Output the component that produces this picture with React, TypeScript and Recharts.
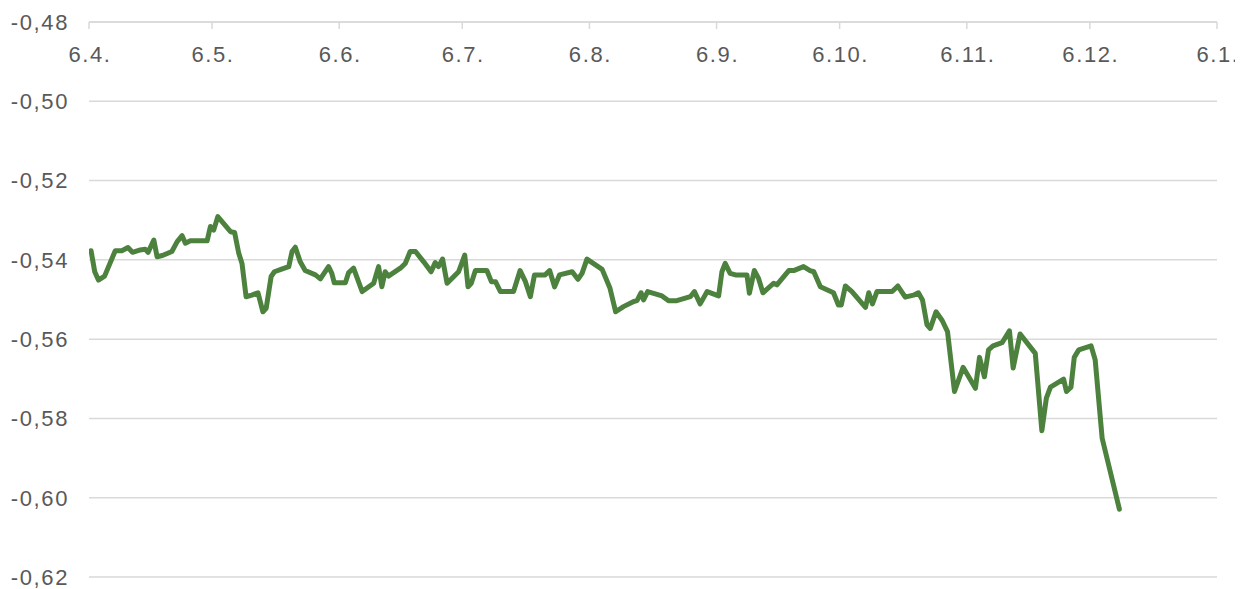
import React from 'react';
import { LineChart, Line, XAxis, YAxis, CartesianGrid } from 'recharts';

// days since 6 April
const DAYS = [0.5, 1.4, 2.3, 3.8, 6.4, 8.0, 9.5, 10.6, 12.5, 13.7, 14.4, 15.8, 16.6, 17.9, 20.2, 21.5, 22.7, 23.5, 24.7, 28.8,
  29.6, 30.4, 31.4, 34.5, 35.5, 36.5, 37.3, 38.3, 39.7, 41.2, 42.4, 43.2, 44.4, 45.2, 46.8, 48.7, 49.5, 50.3, 51.5, 52.7,
  55.2, 56.4, 58.4, 59.2, 59.8, 62.5, 63.3, 64.5, 66.6, 69.4, 70.6, 71.4, 72.2, 73.0, 75.9, 77.1, 78.3, 79.6, 81.6, 83.4,
  84.4, 85.2, 86.2, 87.3, 90.1, 91.6, 92.4, 93.2, 94.2, 97.0, 98.1, 99.1, 100.3, 103.5, 105.1, 106.4, 107.6, 108.6, 111.2, 112.3,
  113.5, 114.7, 117.8, 119.2, 120.2, 121.4, 125.1, 127.0, 128.4, 130.3, 132.8, 133.6, 134.6, 135.2, 136.2, 139.7, 141.3, 143.3, 146.6, 147.6,
  149.0, 150.7, 153.5, 154.3, 155.1, 156.3, 157.6, 160.4, 161.0, 162.2, 163.2, 164.3, 166.9, 167.7, 170.6, 171.8, 174.2, 175.8, 176.7, 178.3,
  181.5, 182.7, 183.4, 184.4, 186.0, 189.3, 190.1, 191.0, 192.1, 195.8, 197.2, 199.0, 201.0, 202.2, 203.2, 204.3, 205.1, 206.5, 208.0, 209.3,
  211.0, 213.1, 216.1, 217.1, 218.3, 219.3, 220.4, 222.6, 224.4, 225.3, 227.0, 230.7, 232.3, 233.4, 234.4, 236.0, 237.6, 238.3, 239.4, 240.2,
  241.3, 244.3, 245.3, 247.0, 251.2];

const VALUES = [-0.5377, -0.5430, -0.5451, -0.5441, -0.5377, -0.5377, -0.5369, -0.5381, -0.5375, -0.5373, -0.5381, -0.5350, -0.5392, -0.5389, -0.5379, -0.5354, -0.5339, -0.5358, -0.5352, -0.5352,
  -0.5316, -0.5325, -0.5291, -0.5329, -0.5331, -0.5383, -0.5409, -0.5493, -0.5489, -0.5483, -0.5531, -0.5522, -0.5442, -0.5430, -0.5424, -0.5417, -0.5379, -0.5368, -0.5405, -0.5427,
  -0.5438, -0.5448, -0.5417, -0.5434, -0.5458, -0.5458, -0.5432, -0.5421, -0.5480, -0.5459, -0.5417, -0.5468, -0.5430, -0.5441, -0.5421, -0.5409, -0.5379, -0.5379, -0.5405, -0.5430,
  -0.5407, -0.5417, -0.5398, -0.5459, -0.5430, -0.5388, -0.5468, -0.5459, -0.5427, -0.5427, -0.5455, -0.5455, -0.5480, -0.5480, -0.5427, -0.5455, -0.5493, -0.5438, -0.5438, -0.5427,
  -0.5468, -0.5438, -0.5430, -0.5449, -0.5434, -0.5398, -0.5424, -0.5471, -0.5531, -0.5518, -0.5505, -0.5503, -0.5483, -0.5501, -0.5480, -0.5491, -0.5503, -0.5503, -0.5493, -0.5480,
  -0.5511, -0.5480, -0.5491, -0.5430, -0.5409, -0.5434, -0.5438, -0.5438, -0.5484, -0.5427, -0.5446, -0.5483, -0.5459, -0.5463, -0.5427, -0.5427, -0.5417, -0.5427, -0.5430, -0.5468,
  -0.5483, -0.5514, -0.5514, -0.5466, -0.5480, -0.5520, -0.5483, -0.5511, -0.5480, -0.5480, -0.5466, -0.5494, -0.5489, -0.5483, -0.5501, -0.5564, -0.5573, -0.5531, -0.5553, -0.5581,
  -0.5732, -0.5671, -0.5724, -0.5646, -0.5695, -0.5627, -0.5617, -0.5609, -0.5579, -0.5673, -0.5587, -0.5636, -0.5831, -0.5749, -0.5721, -0.5711, -0.5701, -0.5732, -0.5721, -0.5646,
  -0.5627, -0.5617, -0.5652, -0.5850, -0.6029];

const X_TICKS = [0, 30, 61, 91, 122, 153, 183, 214, 244, 275];
const X_LABELS = ['6.4.', '6.5.', '6.6.', '6.7.', '6.8.', '6.9.', '6.10.', '6.11.', '6.12.', '6.1.'];
const Y_TICKS = [-0.62, -0.6, -0.58, -0.56, -0.54, -0.52, -0.5, -0.48];

const data = DAYS.map((day, i) => ({ day, value: VALUES[i] }));

const W = 1235;
const H = 581;
const AXIS_Y = 14;
const FONT = '"Liberation Sans", Arial, Helvetica, sans-serif';
const TEXT_COLOR = '#595959';
const GRID = '#d9d9d9';
const FONT_SIZE = 22;
const SPACING = '1.6px';

function XTick(props: any) {
  const { x, payload } = props;
  const idx = X_TICKS.indexOf(payload.value);
  return (
    <g>
      <line x1={x} x2={x} y1={AXIS_Y} y2={AXIS_Y + 7} stroke={GRID} strokeWidth={1.5} />
      <text
        x={x + 1}
        y={AXIS_Y + 32}
        dy="0.355em"
        textAnchor="middle"
        fill={TEXT_COLOR}
        fontSize={FONT_SIZE}
        fontFamily={FONT}
        style={{ letterSpacing: SPACING }}
      >
        {X_LABELS[idx]}
      </text>
    </g>
  );
}

const fmtY = (v: number) => v.toFixed(2).replace('.', ',');

export default function App() {
  return (
    <div style={{ width: W, height: H }}>
      <LineChart width={W} height={H} data={data} margin={{ top: 0, right: 26, bottom: 12, left: 0 }}>
        <CartesianGrid vertical={false} stroke={GRID} strokeWidth={1.5} />
        <XAxis
          dataKey="day"
          type="number"
          domain={[0, 275]}
          ticks={X_TICKS}
          orientation="top"
          height={14}
          axisLine={{ stroke: GRID, strokeWidth: 1.5 }}
          tickLine={false}
          tick={<XTick />}
          interval={0}
          allowDataOverflow
        />
        <YAxis
          type="number"
          domain={[-0.62, -0.48]}
          ticks={Y_TICKS}
          width={81}
          axisLine={false}
          tickLine={false}
          tickSize={0}
          tickMargin={20}
          interval={0}
          tickFormatter={fmtY}
          tick={{ fill: TEXT_COLOR, fontSize: FONT_SIZE, fontFamily: FONT, style: { letterSpacing: SPACING } } as any}
          allowDataOverflow
        />
        <Line
          type="linear"
          dataKey="value"
          stroke="#4c823e"
          strokeWidth={5}
          strokeLinejoin="round"
          strokeLinecap="round"
          dot={false}
          isAnimationActive={false}
        />
      </LineChart>
    </div>
  );
}
